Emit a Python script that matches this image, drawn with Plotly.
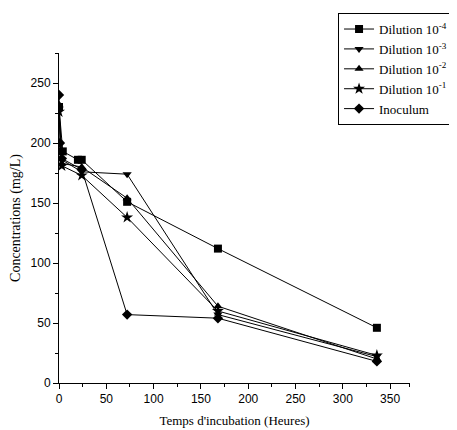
import plotly.graph_objects as go

# Data
t_d4 = [0, 4, 20, 24, 72, 168, 336]
c_d4 = [230, 193, 186, 186, 151, 112, 46]

t_d3 = [0, 3, 24, 72, 168, 336]
c_d3 = [228, 186, 176, 174, 57, 22]

t_d2 = [0, 3, 24, 72, 168, 336]
c_d2 = [232, 183, 180, 154, 64, 20]

t_d1 = [0, 3, 24, 72, 168, 336]
c_d1 = [226, 181, 173, 138, 60, 23]

t_ino = [0, 1, 3, 24, 72, 168, 336]
c_ino = [240, 200, 187, 178, 57, 54, 18]

names = ["Dilution 10<sup>-4</sup>", "Dilution 10<sup>-3</sup>",
         "Dilution 10<sup>-2</sup>", "Dilution 10<sup>-1</sup>", "Inoculum"]
symbols = ["square", "triangle-down", "triangle-up", "star", "diamond"]
series = [(t_d4, c_d4), (t_d3, c_d3), (t_d2, c_d2), (t_d1, c_d1), (t_ino, c_ino)]

SERIF = "Liberation Serif, Times New Roman, serif"
SANS = "Liberation Sans, Arial, sans-serif"

fig = go.Figure()
for (t, c), n, s in zip(series, names, symbols):
    fig.add_trace(go.Scatter(
        x=t, y=c, name=n, mode="lines+markers",
        line=dict(color="black", width=1),
        marker=dict(symbol=s, size=8 if s != "star" else 9, color="black"),
    ))

# page body has an 8px margin, so the figure is drawn 8px smaller
fig.update_layout(
    width=449, height=422,
    margin=dict(l=51, r=47, t=45, b=47, autoexpand=False),
    paper_bgcolor="white", plot_bgcolor="white",
    font=dict(family=SERIF, color="black", size=12),
    showlegend=True,
    legend=dict(
        x=0.795, y=1.121, xanchor="left", yanchor="top",
        bordercolor="black", borderwidth=1, bgcolor="white",
        font=dict(family=SERIF, size=13),
        tracegroupgap=1, itemwidth=30,
    ),
    annotations=[dict(
        text="<b>(a)</b>", x=386, y=143, xref="x", yref="y",
        xanchor="center", yanchor="middle", showarrow=False,
        font=dict(family=SERIF, size=22, color="black"),
    )],
)

fig.update_xaxes(
    range=[0, 371], tickvals=[0, 50, 100, 150, 200, 250, 300, 350],
    showline=True, linecolor="black", linewidth=1,
    ticks="outside", ticklen=5, tickcolor="black",
    minor=dict(tickvals=[25, 75, 125, 175, 225, 275, 325, 370], ticks="outside", ticklen=3, tickcolor="black"),
    showgrid=False, zeroline=False,
    tickfont=dict(family=SANS, size=12),
    title=dict(text="Temps d'incubation (Heures)", standoff=10,
               font=dict(family=SERIF, size=13)),
)
fig.update_yaxes(
    range=[0, 275], tickvals=[0, 50, 100, 150, 200, 250],
    showline=True, linecolor="black", linewidth=1,
    ticks="outside", ticklen=5, tickcolor="black",
    minor=dict(tickvals=[25, 75, 125, 175, 225, 275], ticks="outside", ticklen=3, tickcolor="black"),
    showgrid=False, zeroline=False,
    tickfont=dict(family=SANS, size=12),
    title=dict(text="Concentrations (mg/L)", standoff=6,
               font=dict(family=SERIF, size=14)),
)

fig.write_html("out.html")
